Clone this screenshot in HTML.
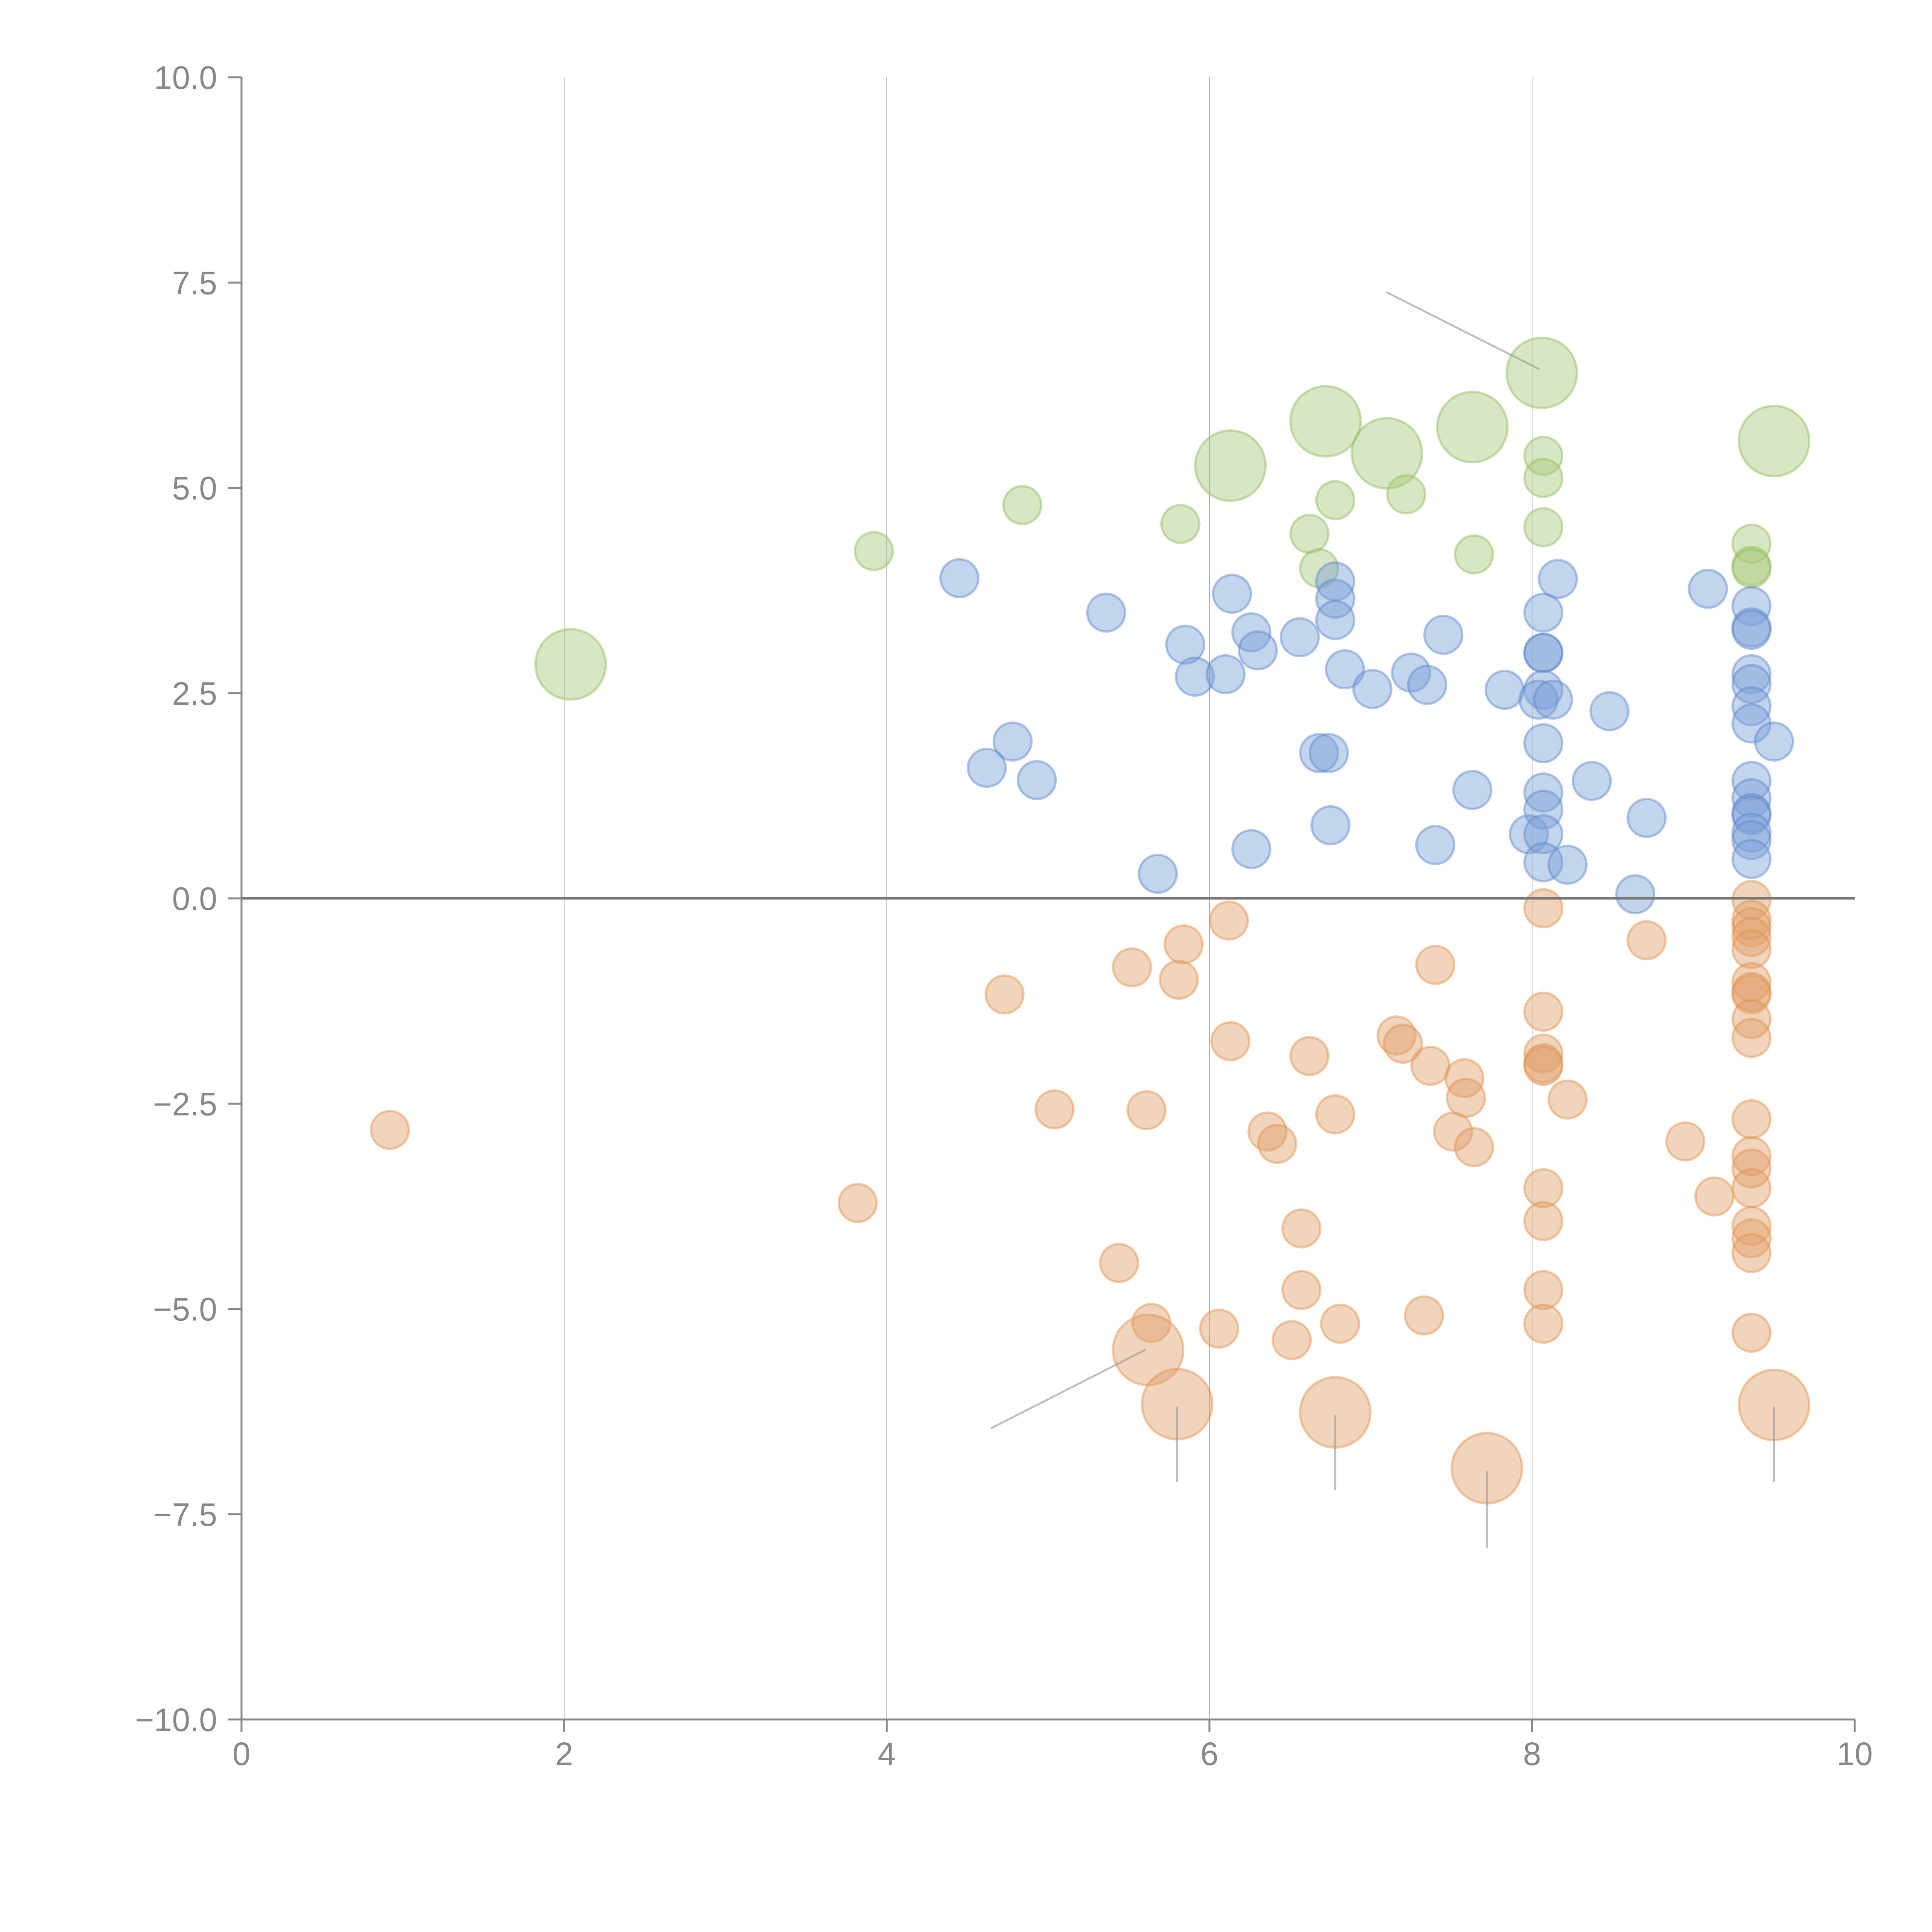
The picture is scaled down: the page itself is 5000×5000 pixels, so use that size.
<!DOCTYPE html>
<html><head><meta charset="utf-8"><style>
html,body{margin:0;padding:0;background:#fff;}
svg{display:block;}
text{font-family:"Liberation Sans",Arial,sans-serif;fill:#888;font-size:84px;}
</style></head><body>
<svg id="chart" width="5000" height="5000" viewBox="0 0 5000 5000" xmlns="http://www.w3.org/2000/svg">
<g id="grid"></g>
<g id="marks"></g>
<g id="leaders"></g>
<g id="axes"></g>
</svg>
<script>
const xTicks = [0, 2, 4, 6, 8, 10];
const yTicks = [-10, -7.5, -5, -2.5, 0, 2.5, 5, 7.5, 10];
const yTickLabels = ["\u221210.0","\u22127.5","\u22125.0","\u22122.5","0.0","2.5","5.0","7.5","10.0"];
const xTickLabels = ["0","2","4","6","8","10"];

const greenX = [2.04,3.92,4.84,5.82,6.13,6.62,6.68,6.72,6.78,7.10,7.22,7.63,7.64,8.06,8.07,8.07,8.07,9.50,9.36,9.36,9.36];
const greenY = [2.85,4.23,4.79,4.56,5.27,4.44,4.02,5.81,4.85,5.42,4.92,5.74,4.19,6.40,5.39,5.12,4.52,5.57,4.32,4.05,4.02];
const greenS = [1,0,0,0,1,0,0,1,0,1,0,1,0,1,0,0,0,1,0,0,0];

const blueX = [4.45,5.36,5.85,5.91,6.10,6.14,6.26,6.30,6.56,6.78,6.78,6.78,6.84,7.01,7.25,7.35,7.45,7.83,8.07,8.07,8.07,8.07,8.04,8.13,8.07,8.16,8.48,9.09,9.36,9.36,9.36,9.36,9.36,9.36,9.36,9.50,4.78,4.62,4.93,6.68,6.74,7.63,8.37,8.07,8.07,7.98,8.07,8.07,8.22,8.71,8.64,6.75,6.26,7.40,5.68,9.36,9.36,9.36,9.36,9.36,9.36,9.36];
const blueY = [3.90,3.48,3.09,2.70,2.73,3.71,3.24,3.02,3.18,3.86,3.65,3.39,2.79,2.55,2.75,2.60,3.21,2.54,3.48,2.99,2.99,2.54,2.42,2.42,1.89,3.89,2.28,3.77,3.56,3.30,3.27,2.73,2.61,2.34,2.13,1.91,1.91,1.59,1.44,1.77,1.77,1.32,1.43,1.29,1.08,0.78,0.78,0.44,0.41,0.98,0.05,0.89,0.60,0.65,0.30,1.43,1.22,1.04,1.01,0.80,0.71,0.48];

const orangeX = [0.92,3.82,4.73,5.04,5.52,5.61,5.81,5.84,5.44,5.64,5.62,5.80,6.06,6.12,6.13,6.36,6.42,6.62,6.57,6.57,6.51,6.78,6.81,6.78,7.16,7.20,7.37,7.40,7.58,7.59,7.51,7.64,7.33,7.72,8.07,8.07,8.07,8.07,8.07,8.22,8.07,8.07,8.07,8.07,8.71,8.95,9.13,9.36,9.36,9.36,9.36,9.36,9.36,9.36,9.36,9.36,9.36,9.36,9.36,9.36,9.36,9.36,9.36,9.36,9.36,9.50];
const orangeY = [-2.82,-3.71,-1.17,-2.57,-0.84,-2.58,-0.99,-0.56,-4.44,-5.17,-5.50,-6.16,-5.24,-0.27,-1.74,-2.84,-2.99,-1.92,-4.02,-4.77,-5.38,-2.63,-5.18,-6.26,-1.67,-1.77,-2.04,-0.81,-2.19,-2.43,-2.84,-3.03,-5.08,-6.94,-0.12,-1.38,-1.89,-2.01,-2.04,-2.45,-3.53,-3.93,-4.77,-5.18,-0.51,-2.96,-3.63,-0.02,-0.26,-0.35,-0.47,-0.62,-1.02,-1.14,-1.17,-1.47,-1.70,-2.69,-3.14,-3.29,-3.53,-3.99,-4.14,-4.32,-5.29,-6.17];
const orangeS = [0,0,0,0,0,0,0,0,0,0,1,1,0,0,0,0,0,0,0,0,0,0,0,1,0,0,0,0,0,0,0,0,0,1,0,0,0,0,0,0,0,0,0,0,0,0,0,0,0,0,0,0,0,0,0,0,0,0,0,0,0,0,0,0,0,1];

// leader lines: [x1,y1,x2,y2] in data units
const leaderX1 = [7.10, 4.65, 5.80, 6.78, 7.72, 9.50];
const leaderY1 = [7.38, -6.45, -6.20, -6.30, -6.98, -6.20];
const leaderX2 = [8.04, 5.60, 5.80, 6.78, 7.72, 9.50];
const leaderY2 = [6.45, -5.50, -7.10, -7.20, -7.90, -7.10];

const X0=625, X1=4800, Y0=4450, Y1=200;
function sx(v){return X0+(v-0)/(10-0)*(X1-X0);}
function sy(v){return Y0-(v-(-10))/(20)*(Y0-Y1);}
const NS="http://www.w3.org/2000/svg";
function mk(tag,attrs,parent){const e=document.createElementNS(NS,tag);for(const k in attrs)e.setAttribute(k,attrs[k]);parent.appendChild(e);return e;}

const grid=document.getElementById('grid');
xTicks.forEach(t=>{ if(t>0&&t<10){
  const l=mk('line',{x1:sx(t),x2:sx(t),y1:Y1,y2:Y0,stroke:'#999','stroke-width':1.6},grid);
  
  
}});

const marks=document.getElementById('marks');
function series(xs,ys,ss,fill,stroke,name){
  xs.forEach((x,i)=>{
    const r = ss ? (ss[i]?91:49) : 49;
    const c=mk('circle',{cx:sx(x),cy:sy(ys[i]),r:r,fill:fill,'fill-opacity':0.45,stroke:stroke,'stroke-opacity':0.45,'stroke-width':6},marks);
    
    
  });
}
series(greenX,greenY,greenS,'#a9c97a','#8fb85a','green');
series(blueX,blueY,null,'#7b9fd6','#5b86c7','blue');
series(orangeX,orangeY,orangeS,'#e0a06b','#e0904a','orange');

const leaders=document.getElementById('leaders');
leaderX1.forEach((x,i)=>{
  const l=mk('line',{x1:sx(x),y1:sy(leaderY1[i]),x2:sx(leaderX2[i]),y2:sy(leaderY2[i]),stroke:'#999','stroke-opacity':0.65,'stroke-width':5,'stroke-linecap':'round'},leaders);
  
  
});

const axes=document.getElementById('axes');
const zl=mk('line',{x1:X0,x2:X1,y1:sy(0),y2:sy(0),stroke:'#777','stroke-width':6},axes);


const ya=mk('line',{x1:X0,x2:X0,y1:Y1,y2:Y0,stroke:'#888','stroke-width':5},axes);


const xa=mk('line',{x1:X0,x2:X1,y1:Y0,y2:Y0,stroke:'#888','stroke-width':5},axes);


yTicks.forEach((t,i)=>{
  const y=sy(t);
  const tk=mk('line',{x1:X0-35,x2:X0,y1:y,y2:y,stroke:'#888','stroke-width':5},axes);
  
  
  const tx=mk('text',{x:X0-63,y:y+30,'text-anchor':'end'},axes);
  tx.textContent=yTickLabels[i];
  
  
});
xTicks.forEach((t,i)=>{
  const x=sx(t);
  const tk=mk('line',{x1:x,x2:x,y1:Y0,y2:Y0+33,stroke:'#888','stroke-width':5},axes);
  
  
  const tx=mk('text',{x:x,y:4568,'text-anchor':'middle'},axes);
  tx.textContent=xTickLabels[i];
  
  
});
</script>
</body></html>
